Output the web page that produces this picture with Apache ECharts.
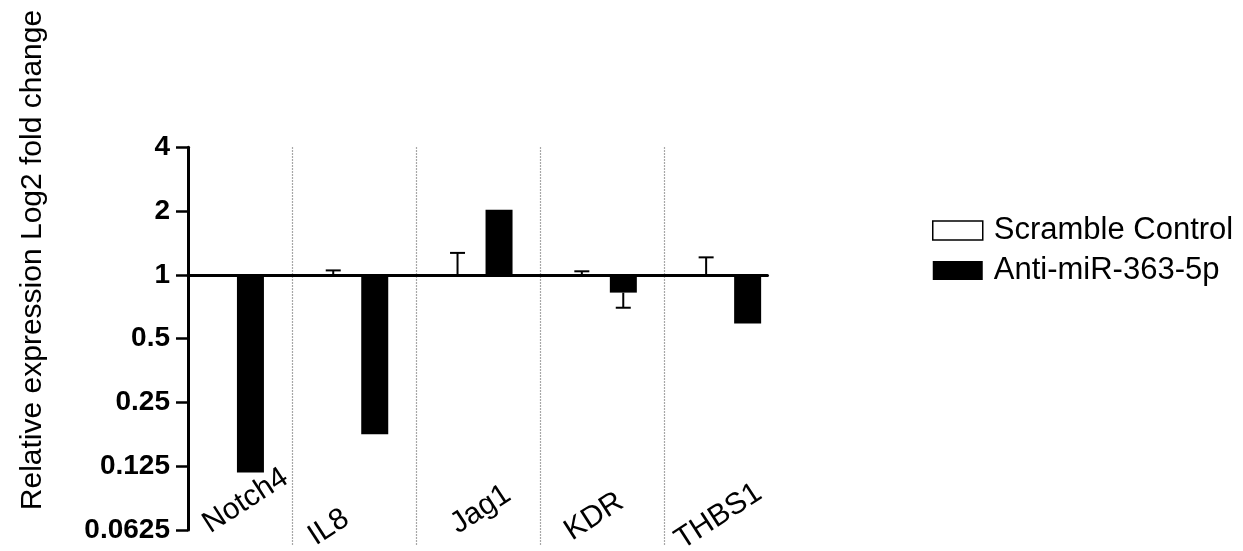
<!DOCTYPE html>
<html>
<head>
<meta charset="utf-8">
<script src="https://cdn.jsdelivr.net/npm/echarts@6/dist/echarts.min.js"></script>
<style>html,body{margin:0;padding:0;background:#fff;}#c{width:1243px;height:551px;}</style>
</head>
<body>
<div id="c"></div>
<script>
// ---- data (fold change, linear) ----
const categories = ['Notch4', 'IL8', 'Jag1', 'KDR', 'THBS1'];
const seriesNames = ['Scramble Control', 'Anti-miR-363-5p'];
const scrambleValues = [1.0, 1.0, 1.0, 1.0, 1.0];
const scrambleErrTop = [1.0, 1.05, 1.27, 1.04, 1.21];
const antiValues = [0.117, 0.177, 2.03, 0.825, 0.59];
const antiErrBottom = [0.117, 0.177, 2.03, 0.70, 0.59];
const yTickLabels = ['0.0625', '0.125', '0.25', '0.5', '1', '2', '4'];
const yTitle = 'Relative expression Log2 fold change';

// ---- layout: small per-label nudges along the rotated text (px) ----
const labelNudge = [19, -30, 3, -10, -10];

const FONT = "'Liberation Sans', Arial, Helvetica, sans-serif";
const l2 = v => Math.log2(v);

const errData = [];
categories.forEach((c, i) => {
  if (scrambleErrTop[i] !== scrambleValues[i]) errData.push([i, l2(scrambleValues[i]), l2(scrambleErrTop[i]), -1]);
  if (antiErrBottom[i] !== antiValues[i]) errData.push([i, l2(antiValues[i]), l2(antiErrBottom[i]), 1]);
});

const rich = {};
labelNudge.forEach((n, i) => { rich['p' + i] = { width: Math.max(1, 2 * Math.abs(n)), fontSize: 30 }; });

const chart = echarts.init(document.getElementById('c'));
chart.setOption({
  backgroundColor: '#fff',
  animation: false,
  textStyle: { fontFamily: FONT },
  grid: [
    { left: 167.5, top: 147.3, width: 621.5, height: 397.8, containLabel: false, outerBoundsMode: 'none' },
    { left: 188, top: 147.3, width: 579.5, height: 382.7, containLabel: false, outerBoundsMode: 'none' }
  ],
  legend: {
    orient: 'vertical',
    left: 927,
    top: 210,
    itemWidth: 50,
    itemHeight: 19,
    itemGap: 9,
    textStyle: { fontSize: 31, color: '#000', fontFamily: FONT, padding: [0, 0, 0, 6] },
    data: [
      { name: seriesNames[0], icon: 'rect', itemStyle: { color: '#fff', borderColor: '#000', borderWidth: 1.5 } },
      { name: seriesNames[1], icon: 'rect', itemStyle: { color: '#000', borderWidth: 0 } }
    ]
  },
  xAxis: [
    {
      type: 'category', gridIndex: 0, data: categories, boundaryGap: true,
      axisLine: { show: false }, axisTick: { show: false },
      axisLabel: {
        interval: 0, rotate: 33, fontSize: 30, color: '#000', fontFamily: FONT,
        margin: -34, align: 'center', verticalAlign: 'middle',
        rich: rich,
        formatter: (value, index) => labelNudge[index] >= 0
          ? '{p' + index + '|}' + value
          : value + '{p' + index + '|}'
      },
      splitLine: {
        show: true, showMinLine: false, showMaxLine: false,
        lineStyle: { type: [1.5, 1.5], color: '#8a8a8a', width: 1.2 }
      }
    },
    {
      type: 'value', gridIndex: 1, min: 0, max: 1,
      axisLine: { show: true, onZero: true, lineStyle: { color: '#000', width: 3 } },
      axisTick: { show: false }, axisLabel: { show: false }, splitLine: { show: false }
    }
  ],
  yAxis: [
    { type: 'value', gridIndex: 0, min: -4.235, max: 2, show: false, splitLine: { show: false } },
    {
      type: 'value', gridIndex: 1, min: -4, max: 2, interval: 1,
      axisLine: { show: true, onZero: false, lineStyle: { color: '#000', width: 3 } },
      axisTick: { show: true, length: 12, lineStyle: { color: '#000', width: 2.5 } },
      axisLabel: {
        margin: 18, fontSize: 28, fontWeight: 'bold', color: '#000', fontFamily: FONT,
        formatter: v => yTickLabels[Math.round(v) + 4]
      },
      splitLine: { show: false }
    }
  ],
  graphic: [{
    type: 'text', x: 33, y: 260, rotation: Math.PI / 2,
    style: { text: yTitle, fontSize: 30, fontFamily: FONT, fill: '#000', textAlign: 'center', textVerticalAlign: 'middle' }
  }],
  series: [
    {
      name: seriesNames[0], type: 'bar', xAxisIndex: 0, yAxisIndex: 0,
      barWidth: 27, barGap: '54%',
      itemStyle: { color: '#fff', borderColor: '#000', borderWidth: 2 },
      data: scrambleValues.map(l2), z: 2
    },
    {
      name: seriesNames[1], type: 'bar', xAxisIndex: 0, yAxisIndex: 0,
      barWidth: 27, barGap: '54%',
      itemStyle: { color: '#000', borderColor: '#000', borderWidth: 0 },
      data: antiValues.map(l2), z: 2
    },
    {
      type: 'custom', xAxisIndex: 0, yAxisIndex: 0, z: 3,
      data: errData,
      renderItem: (params, api) => {
        const idx = api.value(0);
        const band = api.size([1, 0])[0];
        const off = api.value(3) * band / 6;
        const p0 = api.coord([idx, api.value(1)]);
        const p1 = api.coord([idx, api.value(2)]);
        const x = p0[0] + off;
        const cap = 7.5;
        const st = { stroke: '#000', lineWidth: 2 };
        return {
          type: 'group',
          children: [
            { type: 'line', shape: { x1: x, y1: p0[1], x2: x, y2: p1[1] }, style: st },
            { type: 'line', shape: { x1: x - cap, y1: p1[1], x2: x + cap, y2: p1[1] }, style: st }
          ]
        };
      }
    }
  ]
});
</script>
</body>
</html>
